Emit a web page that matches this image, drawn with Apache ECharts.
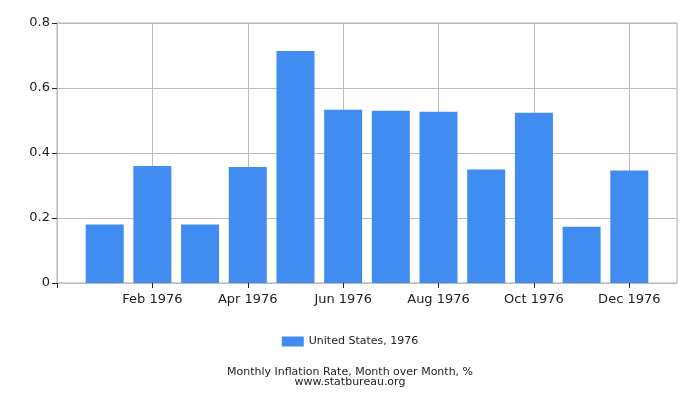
<!DOCTYPE html>
<html style="height: 100%">
<head>
    <meta charset="utf-8">
    <title>Monthly Inflation Rate</title>
    <script type="text/javascript" src="https://cdn.jsdelivr.net/npm/echarts@6/dist/echarts.min.js"></script>
</head>
<body style="height: 100%; margin: 0; background: #fff;">
<div id="container" style="width: 700px; height: 400px;"></div>
<script type="text/javascript">
    // categories: one empty slot on each side so months sit on tick points
    var months = ['', 'Jan 1976', 'Feb 1976', 'Mar 1976', 'Apr 1976', 'May 1976', 'Jun 1976',
        'Jul 1976', 'Aug 1976', 'Sep 1976', 'Oct 1976', 'Nov 1976', 'Dec 1976', ''];
    var rates = [null, 0.18, 0.36, 0.18, 0.357, 0.714, 0.533, 0.530, 0.527, 0.349, 0.524, 0.173, 0.346, null];
    var seriesName = 'United States, 1976';
    var titleLines = ['Monthly Inflation Rate, Month over Month, %', 'www.statbureau.org'];

    var myChart = echarts.init(document.getElementById('container'));
    var font = 'DejaVu Sans';
    var option = {
        animation: false,
        textStyle: {fontFamily: font},
        title: {
            text: titleLines.join('\n'),
            left: 'center',
            top: 362,
            textStyle: {fontFamily: font, fontSize: 11, fontWeight: 'normal', color: '#222', lineHeight: 10}
        },
        legend: {
            data: [seriesName],
            left: 'center',
            top: 331,
            itemWidth: 22,
            itemHeight: 10,
            itemGap: 6,
            icon: 'rect',
            textStyle: {fontFamily: font, fontSize: 11, color: '#222'}
        },
        grid: {
            left: 57,
            right: 23,
            top: 23,
            bottom: 117,
            show: true,
            borderColor: '#aaa',
            borderWidth: 1
        },
        xAxis: {
            type: 'category',
            data: months,
            boundaryGap: false,
            axisLine: {lineStyle: {color: '#bbb'}},
            axisTick: {
                interval: function (i) { return i % 2 === 0; },
                length: 5,
                lineStyle: {color: '#222'}
            },
            axisLabel: {
                interval: function (i) { return i % 2 === 0 && i > 0 && i < 13; },
                color: '#222',
                fontSize: 13,
                margin: 10
            },
            splitLine: {
                show: true,
                interval: function (i) { return i % 2 === 0 && i > 0 && i < 13; },
                lineStyle: {color: '#bbb'}
            }
        },
        yAxis: {
            type: 'value',
            min: 0,
            max: 0.8,
            interval: 0.2,
            axisLine: {show: true, lineStyle: {color: '#bbb'}},
            axisTick: {show: true, length: 5, lineStyle: {color: '#222'}},
            axisLabel: {
                color: '#222',
                fontSize: 13,
                margin: 7,
                formatter: function (v) { return v === 0 ? '0' : v.toFixed(1); }
            },
            splitLine: {lineStyle: {color: '#bbb'}}
        },
        series: [{
            name: seriesName,
            type: 'bar',
            data: rates,
            barWidth: 38,
            itemStyle: {color: '#418cf0'}
        }]
    };
    myChart.setOption(option, true);
</script>
</body>
</html>
